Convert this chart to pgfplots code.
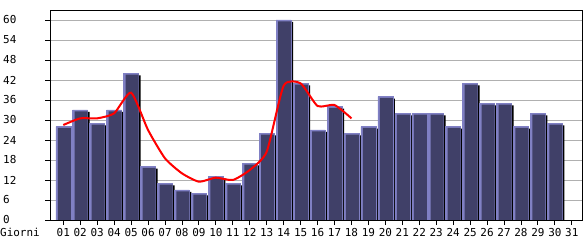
\documentclass[border=0pt]{standalone}
\usepackage{pgfplots}
\pgfplotsset{compat=1.18}
\usepackage{pgfplotstable}
\usepackage{fontspec}
\setmainfont{DejaVu Sans Mono}
\definecolor{barbody}{RGB}{64,64,104}
\definecolor{baredge}{RGB}{128,128,196}
\definecolor{gridc}{RGB}{176,176,176}
\definecolor{trend}{RGB}{255,0,0}

\pgfplotstableread{
day val
1 28
2 33
3 29
4 33
5 44
6 16
7 11
8 9
9 8
10 13
11 11
12 17
13 26
14 60
15 41
16 27
17 34
18 26
19 28
20 37
21 32
22 32
23 32
24 28
25 41
26 35
27 35
28 28
29 32
30 29
31 0
}\bars

\begin{document}
\begin{tikzpicture}
\useasboundingbox (0,0) rectangle (585bp,240bp);
\begin{axis}[
  at={(50.5bp,20bp)}, anchor=south west,
  scale only axis, width=532bp, height=210bp,
  xmin=0.245, xmax=31.63, ymin=0, ymax=63,
  axis line style={black, line width=0.9bp},
  ytick={0,6,...,60},
  xtick={1,...,31},
  xticklabels={01,02,03,04,05,06,07,08,09,10,11,12,13,14,15,16,17,18,19,20,21,22,23,24,25,26,27,28,29,30,31},
  tick pos=left, tick align=outside,
  major tick length=5bp,
  tick style={black, line width=0.9bp},
  ymajorgrids, grid style={gridc, line width=0.9bp},
  font=\fontsize{11}{13}\selectfont,
  /pgf/number format/assume math mode=true,
  yticklabel style={anchor=west, inner sep=0pt, xshift=-42.5bp},
  xticklabel style={anchor=base, inner sep=0pt, yshift=-11.5bp},
  xlabel={Giorni},
  xlabel style={at={(rel axis cs:0,0)}, anchor=base west, inner sep=0pt, xshift=-50.5bp, yshift=-16bp},
]
\addplot[ybar, bar width=15bp, bar shift=2bp, fill=black, draw=none, yshift=-2bp] table[x=day,y=val]{\bars};
\addplot[ybar, bar width=15bp, bar shift=0bp, fill=baredge, draw=baredge, line width=0.5bp] table[x=day,y=val]{\bars};
\addplot[ybar, bar width=13bp, bar shift=1bp, fill=barbody, draw=none, yshift=-1.3bp] table[x=day,y=val]{\bars};
\addplot[trend, line width=2bp, smooth, tension=0.35, mark=none] coordinates {
(1,28.5) (2,30.5) (3,30.5) (4,32) (5,38.2) (6,27) (7,18.5) (8,14) (9,11.5)
(10,12.7) (11,12) (12,15) (13,20.5) (14,40.3) (15,41) (16,34.2) (17,34.5) (18,30.5)
};
\end{axis}
\end{tikzpicture}
\end{document}
